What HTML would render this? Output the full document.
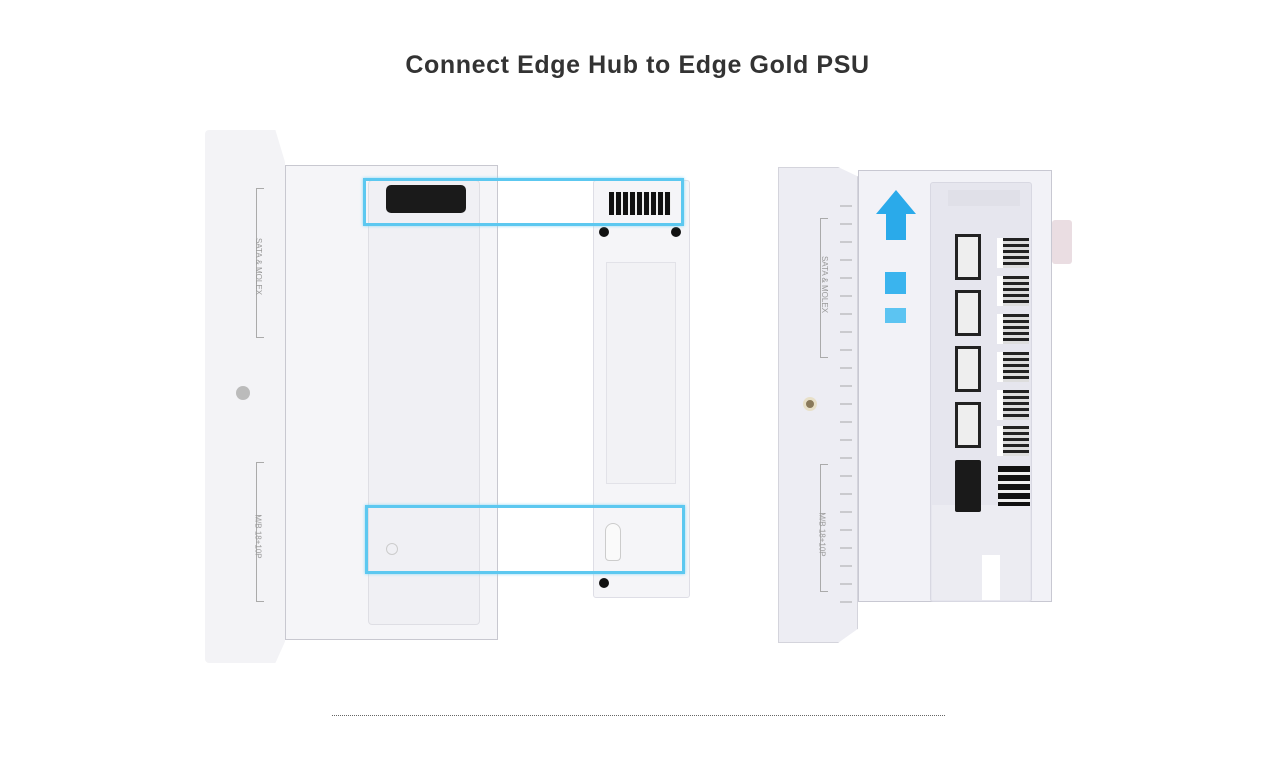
<!DOCTYPE html>
<html><head><style>
*{margin:0;padding:0;box-sizing:border-box}
body{width:1280px;height:779px;background:#fff;position:relative;overflow:hidden;font-family:"Liberation Sans",sans-serif}
.a{position:absolute}
h1{position:absolute;top:51px;left:0;width:1275px;text-align:center;font-size:25px;font-weight:bold;color:#333;letter-spacing:0.6px}
.blue{position:absolute;border:3px solid #5cc8f0;box-shadow:0 0 3px #8ad8f5}
.lab{position:absolute;font-size:8px;color:#999;transform:rotate(90deg);white-space:nowrap}
.brk{position:absolute;border:1px solid #aaa;border-right:none;width:8px}
.con{position:absolute;background:#eee;border:3px solid #222;width:26px;height:46px}
.con2{position:absolute;background:repeating-linear-gradient(#222 0 3px,#ddd 3px 6px);width:32px;height:30px;border-left:6px solid #fff}
.scr{position:absolute;width:10px;height:10px;border-radius:50%;background:#111}
</style></head><body>
<h1>Connect Edge Hub to Edge Gold PSU</h1>

<!-- left device -->
<div class="a" style="left:285px;top:165px;width:213px;height:475px;background:#f5f5f8;border:1px solid #c8c8d0"></div>
<div class="a" style="left:368px;top:180px;width:112px;height:445px;background:#f0f0f4;border:1px solid #dedee4;border-radius:4px"></div>
<div class="a" style="left:205px;top:130px;width:80px;height:533px;background:#f3f3f6;border-radius:4px;clip-path:polygon(0 0,88% 0,100% 6%,100% 96%,88% 100%,0 100%)"></div>
<div class="a" style="left:236px;top:386px;width:14px;height:14px;border-radius:50%;background:#bbb"></div>
<div class="brk" style="left:256px;top:188px;height:150px"></div>
<div class="lab" style="left:230px;top:262px">SATA &amp; MOLEX</div>
<div class="brk" style="left:256px;top:462px;height:140px"></div>
<div class="lab" style="left:236px;top:532px">M/B 18+10P</div>
<div class="a" style="left:386px;top:185px;width:80px;height:28px;background:#1a1a1a;border-radius:5px"></div>
<div class="a" style="left:386px;top:543px;width:12px;height:12px;border:1px solid #ccc;border-radius:50%"></div>

<!-- hub -->
<div class="a" style="left:593px;top:180px;width:97px;height:418px;background:#f5f5f8;border:1px solid #dedee6;border-radius:3px"></div>
<div class="a" style="left:606px;top:262px;width:70px;height:222px;border:1px solid #e2e2e8;background:#f2f2f5"></div>
<div class="a" style="left:609px;top:192px;width:62px;height:23px;background:repeating-linear-gradient(90deg,#111 0 5px,#eee 5px 7px)"></div>
<div class="scr" style="left:599px;top:227px"></div>
<div class="scr" style="left:671px;top:227px"></div>
<div class="scr" style="left:599px;top:578px"></div>
<div class="a" style="left:605px;top:523px;width:16px;height:38px;background:#fafafa;border:1px solid #ccc;border-radius:8px 8px 4px 4px"></div>

<div class="blue" style="left:363px;top:178px;width:321px;height:48px"></div>
<div class="blue" style="left:365px;top:505px;width:320px;height:69px"></div>

<!-- right device -->
<div class="a" style="left:858px;top:170px;width:194px;height:432px;background:#f2f2f7;border:1px solid #c8c8d2"></div>
<div class="a" style="left:1052px;top:220px;width:20px;height:44px;background:#eadde2;border-radius:3px"></div>
<div class="a" style="left:930px;top:182px;width:102px;height:420px;background:#e6e6ee;border:1px solid #d8d8e2;border-radius:3px"></div>
<div class="a" style="left:948px;top:190px;width:72px;height:16px;background:#e0e0e8"></div>
<div class="a" style="left:932px;top:505px;width:98px;height:95px;background:#ececf2"></div>
<div class="a" style="left:982px;top:555px;width:18px;height:45px;background:#fff"></div>
<div class="con" style="left:955px;top:234px"></div>
<div class="con" style="left:955px;top:290px"></div>
<div class="con" style="left:955px;top:346px"></div>
<div class="con" style="left:955px;top:402px"></div>
<div class="a" style="left:955px;top:460px;width:26px;height:52px;background:#1a1a1a;border-radius:2px"></div>
<div class="con2" style="left:997px;top:238px"></div>
<div class="con2" style="left:997px;top:276px"></div>
<div class="con2" style="left:997px;top:314px"></div>
<div class="con2" style="left:997px;top:352px"></div>
<div class="con2" style="left:997px;top:390px"></div>
<div class="con2" style="left:997px;top:426px"></div>
<div class="a" style="left:998px;top:466px;width:32px;height:40px;background:repeating-linear-gradient(#111 0 6px,#eee 6px 9px)"></div>
<div class="a" style="left:778px;top:167px;width:80px;height:476px;background:#ededf3;border:1px solid #d4d4dc;clip-path:polygon(0 0,75% 0,100% 2%,100% 97%,75% 100%,0 100%)"></div>
<div class="a" style="left:803px;top:397px;width:14px;height:14px;border-radius:50%;background:#8a7a5a;border:3px solid #e8e0c8"></div>
<div class="brk" style="left:820px;top:218px;height:140px"></div>
<div class="lab" style="left:796px;top:280px">SATA &amp; MOLEX</div>
<div class="brk" style="left:820px;top:464px;height:128px"></div>
<div class="lab" style="left:800px;top:530px">M/B 18+10P</div>
<div class="a" style="left:840px;top:195px;width:12px;height:420px;background:repeating-linear-gradient(#ededf3 0 10px,#888 10px 12px,#ededf3 12px 18px);opacity:.35"></div>
<!-- arrow -->
<div class="a" style="left:876px;top:190px;width:40px;height:50px;background:#2aaaea;clip-path:polygon(50% 0,100% 48%,75% 48%,75% 100%,25% 100%,25% 48%,0 48%)"></div>
<div class="a" style="left:885px;top:272px;width:21px;height:22px;background:#3ab4ee"></div>
<div class="a" style="left:885px;top:308px;width:21px;height:15px;background:#5cc4f2"></div>

<div class="a" style="left:332px;top:715px;width:613px;border-top:1px dotted #666"></div>
</body></html>
